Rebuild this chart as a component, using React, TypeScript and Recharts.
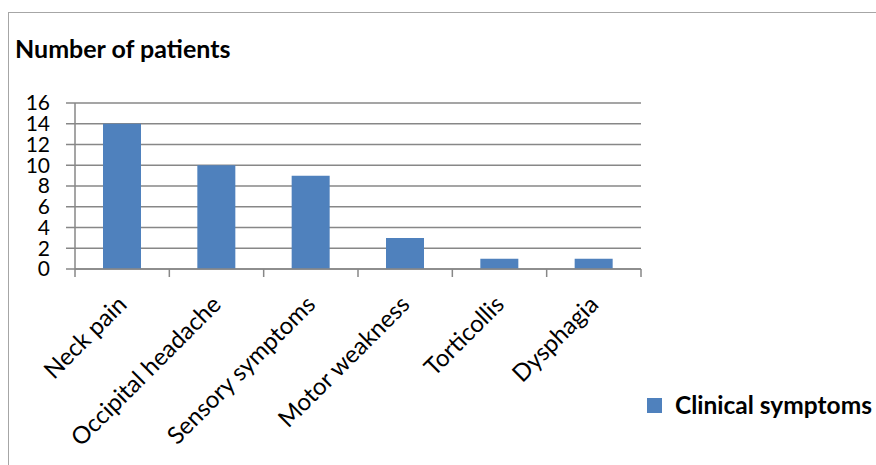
import React from "react";
import { BarChart, Bar, XAxis, YAxis, CartesianGrid, Legend } from "recharts";

const categories = ["Neck pain", "Occipital headache", "Sensory symptoms", "Motor weakness", "Torticollis", "Dysphagia"];
const patientCounts = [14, 10, 9, 3, 1, 1];
const yTicks = [0, 2, 4, 6, 8, 10, 12, 14, 16];
const seriesName = "Clinical symptoms";
const chartTitle = "Number of patients";

const data = categories.map((c, i) => ({ name: c, value: patientCounts[i] }));

const FONT = "Lato, 'Open Sans', sans-serif";
const GRID = "#878787";
const BAR = "#4F81BD";

const CatTick = (props: any) => {
  const { x, y, payload, index } = props;
  const half = payload && payload.offset ? payload.offset : 47.2;
  const tx = x + 6;
  const ty = y + 37;
  return (
    <g>
      <line x1={x - half} y1={y} x2={x - half} y2={y + 8} stroke={GRID} strokeWidth={1.5} />
      {index === categories.length - 1 && (
        <line x1={x + half} y1={y} x2={x + half} y2={y + 8} stroke={GRID} strokeWidth={1.5} />
      )}
      <text
        x={tx}
        y={ty}
        textAnchor="end"
        fontFamily={FONT}
        fontSize={24}
        fill="#000"
        transform={`rotate(-45, ${tx}, ${ty})`}
      >
        {payload.value}
      </text>
    </g>
  );
};

const LegendContent = (props: any) => {
  const { payload } = props;
  return (
    <div style={{ display: "flex", alignItems: "center" }}>
      {(payload || []).map((p: any) => (
        <div key={p.value} style={{ display: "flex", alignItems: "center" }}>
          <div style={{ width: 15, height: 15, background: p.color, marginRight: 13 }} />
          <span style={{ fontFamily: FONT, fontWeight: 700, fontSize: 24.5, lineHeight: 1, color: "#000", whiteSpace: "nowrap" }}>
            {p.value}
          </span>
        </div>
      ))}
    </div>
  );
};

export default function App() {
  return (
    <div style={{ position: "absolute", left: 0, top: 0, width: 876, height: 465, overflow: "hidden", background: "#fff" }}>
      <div
        style={{
          position: "absolute",
          left: 8,
          top: 12,
          width: 900,
          height: 500,
          border: "1.5px solid #a6a6a6",
          boxSizing: "border-box",
        }}
      />
      <div
        style={{
          position: "absolute",
          left: 15,
          top: 36,
          fontFamily: FONT,
          fontWeight: 700,
          fontSize: 25,
          color: "#000",
          whiteSpace: "nowrap",
          lineHeight: 1,
        }}
      >
        {chartTitle}
      </div>
      <div style={{ position: "absolute", left: 0, top: 0 }}>
        <BarChart
          width={876}
          height={465}
          data={data}
          margin={{ top: 103, right: 235, bottom: 46, left: 0 }}
          barSize={38}
        >
          <CartesianGrid vertical={false} stroke={GRID} strokeWidth={1.5} />
          <XAxis
            dataKey="name"
            interval={0}
            height={150}
            tickSize={0}
            tickMargin={0}
            tickLine={false}
            axisLine={{ stroke: GRID, strokeWidth: 1.5 }}
            tick={<CatTick />}
          />
          <YAxis
            width={75}
            domain={[0, 16]}
            ticks={yTicks}
            interval={0}
            tickSize={9}
            tickMargin={16}
            tickLine={{ stroke: GRID, strokeWidth: 1.5 }}
            axisLine={{ stroke: GRID, strokeWidth: 1.5 }}
            tick={{ fontFamily: FONT, fontSize: 21, fill: "#000" }}
          />
          <Legend
            layout="horizontal"
            verticalAlign="middle"
            align="center"
            wrapperStyle={{ left: 647, top: 393, width: "auto" }}
            content={<LegendContent />}
          />
          <Bar dataKey="value" name={seriesName} fill={BAR} isAnimationActive={false} />
        </BarChart>
      </div>
    </div>
  );
}
